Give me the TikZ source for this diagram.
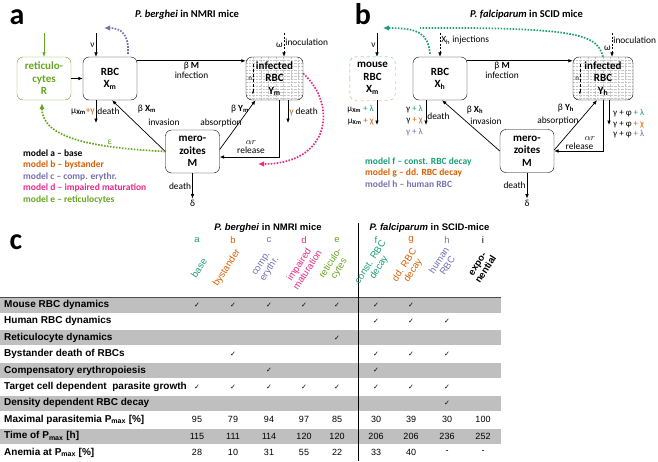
\documentclass[tikz,border=0pt]{standalone}
\usepackage{fontspec}
\setmainfont{Carlito}
\newfontfamily\tabfont{Liberation Sans}
\newfontfamily\symfont{DejaVu Sans}
\usetikzlibrary{arrows.meta}

\definecolor{mteal}{HTML}{1B9E77}
\definecolor{morange}{HTML}{D95F02}
\definecolor{mpurple}{HTML}{7570B3}
\definecolor{mpink}{HTML}{E7298A}
\definecolor{mgreen}{HTML}{66A61E}
\definecolor{rowgray}{HTML}{BFBFBF}

\tikzset{
  compbox/.style={draw, rounded corners=6pt, minimum width=54pt, minimum height=43pt,
    inner sep=1pt, align=center, font=\fontsize{11}{12.5}\selectfont\bfseries},
  infbox/.style={path picture={
      \foreach \k in {1,...,13}
        \draw[gray!45, densely dotted] ([yshift=-\k*3.2pt]path picture bounding box.north west) -- ++(70pt,0pt);
      \foreach \k in {1,...,8}
        \draw[gray!45, densely dotted] ([xshift=\k*7.5pt]path picture bounding box.north west) -- ++(0pt,-50pt);}},
  lbl/.style={font=\fontsize{9.4}{9.8}\selectfont, inner sep=1pt},
  flow/.style={->, line width=0.7pt},
  dashline/.style={dash pattern=on 2pt off 1.5pt},
  dotarr/.style={-{Latex[length=6pt,width=5.5pt]}, line width=1.7pt, dash pattern=on 1.6pt off 1.4pt},
  dotline/.style={line width=1.7pt, dash pattern=on 1.6pt off 1.4pt},
  legend/.style={anchor=west, inner sep=0pt, font=\fontsize{9.5}{10}\selectfont\bfseries},
  panel/.style={inner sep=0pt, font=\fontsize{30}{30}\selectfont\bfseries},
  ptitle/.style={inner sep=0pt, font=\fontsize{10.5}{11}\selectfont\bfseries},
  ttitle/.style={inner sep=0pt, font=\tabfont\fontsize{9.5}{10}\selectfont\bfseries},
  tabrow/.style={anchor=west, inner sep=0pt, font=\tabfont\fontsize{10}{11}\selectfont\bfseries},
  tabval/.style={inner sep=0pt, font=\tabfont\fontsize{9}{10}\selectfont},
  chk/.style={inner sep=0pt, font=\symfont\fontsize{7}{7}\selectfont},
  collbl/.style={rotate=57, align=center, inner sep=0pt, font=\tabfont\fontsize{9.5}{10}\selectfont},
}

\begin{document}
\begin{tikzpicture}[x=1pt,y=-1pt,>={Latex[length=4.5pt,width=3.6pt]}]
\useasboundingbox (0,0) rectangle (658,461);

% table background
\foreach \r in {0,2,4,6,8} {
  \pgfmathsetmacro\yy{305+\r*16.4}
  \fill[rowgray] (0,\yy-7.6) rectangle (501,\yy+7.6);
}
\draw[gray!60!black, line width=0.8pt] (0,297.5) -- (501,297.5);
\draw[line width=0.7pt] (358,223) -- (358,461);

% ---- panel a
\node[panel] (pa) at (17,17) {a};
\node[ptitle] (titA) at (187,15) {\textit{P. berghei} in NMRI mice};

\node[compbox, draw=mgreen, text=mgreen] (retA) at (44,78.5) {reticulo-\\cytes\\R};
\node[compbox] (rbcA) at (110,78.5) {RBC\\X\textsubscript{m}};
\node[compbox, infbox, minimum width=57pt] (infA) at (274.5,78.5) {infected\\RBC\\Y\textsubscript{m}};
\node[compbox] (merA) at (192.5,151.5) {mero-\\zoites\\M};

\coordinate (srcR) at (44,33);
\draw[flow, mgreen] (srcR) -- (retA.north);
\coordinate (srcX) at (96,33);
\draw[flow] (srcX) -- (srcX |- rbcA.north) node[lbl, midway, left] (nuA) {ν};
\draw[flow] (retA) -- (rbcA);
\draw[flow] ([yshift=-4pt]rbcA.north east) -- ([yshift=-4pt]infA.north west)
  node[lbl, midway, below, align=center] (infecA) {β \textbf{M}\\infection};
\coordinate (srcI) at (284,33);
\draw[flow, dashline] (srcI) -- (srcI |- infA.north)
  node[lbl, midway, left] (omA) {ω} node[lbl, pos=0.4, right] (inoA) {inoculation};
\draw[-{Latex[length=2.5pt,width=2pt]}, densely dashed, line width=0.4pt]
  ([xshift=7pt,yshift=-7pt]infA.north west) -- ([xshift=7pt,yshift=6pt]infA.south west)
  node[midway, left, inner sep=0.5pt, font=\fontsize{7}{7}\selectfont] (nA) {n};

\coordinate (dthI) at (288,123);
\draw[flow] (dthI |- infA.south) -- (dthI) node[lbl, midway, right] (gdA) {\textcolor{morange}{γ} death};
\coordinate (relA) at (279,157);
\draw[flow] (relA |- infA.south) -- (relA) -- (relA -| merA.east);
\node[lbl, align=center] (relAl) at (251,147) {$\alpha r$\\release};
\draw[flow] ([yshift=2pt]merA.east) -- ([xshift=-19pt]infA.south);
\node[lbl] (byA) at (240,109.5) {β \textbf{Y\textsubscript{m}}};
\node[lbl] (absA) at (221,122.5) {absorption};
\draw[flow] (merA.west) -- ([xshift=2pt]rbcA.south);
\node[lbl] (bxA) at (147,109.5) {β \textbf{X\textsubscript{m}}};
\node[lbl] (invA) at (164,122) {invasion};

\coordinate (dthR) at (96,123);
\draw[flow] (dthR |- rbcA.south) -- (dthR) node[lbl, midway, right] (dRA) {death}
  node[lbl, midway, left] (muA) {μ\textsubscript{\textbf{Xm}}\textcolor{morange}{+γ}};
\node[lbl] (delA) at (192.5,203) {δ};
\draw[flow] (merA) -- (delA) node[lbl, midway, left] (dMA) {death};

\coordinate (cmpA) at (104,28);
\draw[dotarr, mpurple] ([xshift=18pt,yshift=3pt]rbcA.north) .. controls (129,35) and (122,28) .. (cmpA);
\draw[dotarr, mgreen] (merA.west) .. controls (100,148) and (42,140) .. ([xshift=-2pt,yshift=-3pt]retA.south)
  node[lbl, pos=0.3, above, text=mgreen] (epsA) {ε};
\coordinate (impA) at (258,164);
\draw[dotarr, mpink] ([yshift=5pt]infA.east) .. controls (338,105) and (330,164) .. (impA);

\node[legend] (mdla) at (23,153) {model a – base};
\node[legend, text=morange] (mdlb) at (23,165) {model b – bystander};
\node[legend, text=mpurple] (mdlc) at (23,176.5) {model c – comp. erythr.};
\node[legend, text=mpink] (mdld) at (23,188) {model d – impaired maturation};
\node[legend, text=mgreen] (mdle) at (23,200) {model e – reticulocytes};

% ---- panel b
\node[panel] (pb) at (363,14) {b};
\node[ptitle] (titB) at (526.5,15) {\textit{P. falciparum} in SCID mice};

\node[compbox, draw=none, minimum width=45pt] (mouB) at (372.5,78.5) {mouse\\RBC\\X\textsubscript{m}};
\draw[mteal!70, dashed, rounded corners=6pt] (mouB.west) |- (mouB.north) -| (mouB.east);
\draw[morange!70, dashed, rounded corners=6pt] (mouB.west) |- (mouB.south) -| (mouB.east);
\node[compbox] (rbcB) at (440,78.5) {RBC\\X\textsubscript{h}};
\node[compbox, infbox, minimum width=60pt] (infB) at (603,78.5) {infected\\RBC\\Y\textsubscript{h}};
\node[compbox] (merB) at (527,151) {mero-\\zoites\\M};

\coordinate (srcM) at (377,33);
\draw[flow] (srcM) -- (srcM |- mouB.north) node[lbl, midway, left] (nuB) {ν};
\coordinate (srcH) at (440,33);
\draw[flow, dashline] (srcH) -- (srcH |- rbcB.north) node[lbl, pos=0.3, right] (injB) {X\textsubscript{h} injections};
\draw[flow] ([yshift=-4pt]rbcB.north east) -- ([yshift=-4pt]infB.north west)
  node[lbl, pos=0.33, below, align=center] (infecB) {β \textbf{M}\\infection};
\coordinate (srcJ) at (612,33);
\draw[flow, dashline] (srcJ) -- (srcJ |- infB.north)
  node[lbl, pos=0.65, left] (omB) {ω} node[lbl, pos=0.3, right] (inoB) {inoculation};
\draw[-{Latex[length=2.5pt,width=2pt]}, densely dashed, line width=0.4pt]
  ([xshift=7pt,yshift=-7pt]infB.north west) -- ([xshift=7pt,yshift=6pt]infB.south west)
  node[midway, left, inner sep=0.5pt, font=\fontsize{7}{7}\selectfont] (nB) {n};

\coordinate (dthJ) at (609,125);
\draw[flow] (dthJ |- infB.south) -- (dthJ);
\node[lbl, anchor=west, align=left, font=\fontsize{9}{10.5}\selectfont] (lamB) at (612,124)
  {γ + φ \textcolor{mteal}{+ λ}\\γ + φ \textcolor{morange}{+ χ}\\γ + φ \textcolor{mpurple}{+ λ}};
\coordinate (relB) at (603,151);
\draw[flow] (relB |- infB.south) -- (relB) -- (relB -| merB.east);
\node[lbl] (arB) at (590,138.5) {$\alpha r$};
\node[lbl] (relBl) at (579.5,146) {release};
\draw[flow] ([yshift=1pt]merB.east) -- ([xshift=-6pt]infB.south);
\node[lbl] (byB) at (566,108) {β \textbf{Y\textsubscript{h}}};
\node[lbl] (absB) at (558,121) {absorption};
\draw[flow] (merB.west) -- ([xshift=2pt]rbcB.south);
\node[lbl] (bxB) at (475,110) {β \textbf{X\textsubscript{h}}};
\node[lbl] (invB) at (486,121) {invasion};

\coordinate (dthH) at (426,125);
\draw[flow] (dthH |- rbcB.south) -- (dthH) node[lbl, pos=0.65, right] (dHB) {death};
\node[lbl, anchor=east, align=right, font=\fontsize{9}{11.5}\selectfont] (gamB) at (424,120.5)
  {γ \textcolor{mteal}{+ λ}\\γ \textcolor{morange}{+ χ}\\\textcolor{mpurple}{γ + λ}};
\coordinate (dthM) at (377,125);
\draw[flow] (dthM |- mouB.south) -- (dthM);
\node[lbl, anchor=east, align=right, font=\fontsize{9}{12}\selectfont] (muB) at (375,115)
  {μ\textsubscript{\textbf{Xm}} \textcolor{mteal}{+ λ}\\μ\textsubscript{\textbf{Xm}} \textcolor{morange}{+ χ}};
\node[lbl] (delB) at (527,203) {δ};
\draw[flow] (merB) -- (delB) node[lbl, midway, left] (dMB) {death};

\coordinate (decB) at (383,28);
\coordinate (joinB) at (420,28);
\draw[dotarr, mteal] ([xshift=-10pt,yshift=3pt]rbcB.north) .. controls (428,33) and (418,28) .. (decB);
\draw[dotline, mteal] (infB.north) .. controls (597,36) and (585,27) .. (joinB);

\node[legend, text=mteal] (mdlf) at (365,162) {model f – const. RBC decay};
\node[legend, text=morange] (mdlg) at (365,173) {model g – dd. RBC decay};
\node[legend, text=mpurple] (mdlh) at (365,184) {model h – human RBC};

% ---- panel c
\node[panel] (pc) at (16,242) {c};
\node[ttitle] (titC1) at (268,228) {\textit{P. berghei} in NMRI mice};
\node[ttitle] (titC2) at (429.5,228) {\textit{P. falciparum} in SCID-mice};

\foreach \c/\x in {a/197,b/233,c/269,d/304,e/337,f/376,g/411,h/447,i/483}
  \coordinate (col\c) at (\x,240);
\foreach \c/\clr in {a/mteal,b/morange,c/mpurple,d/mpink,e/mgreen,f/mteal,g/morange,h/mpurple,i/black}
  \node[tabval, font=\tabfont\fontsize{9.5}{9.5}\selectfont, text=\clr] (hd\c) at (col\c) {\c};

\node[collbl, text=mteal] (lba) at (199,268) {base};
\node[collbl, text=morange] (lbb) at (227,268) {bystander};
\node[collbl, text=mpurple] (lbc) at (266,267) {comp.\\erythr.};
\node[collbl, text=mpink] (lbd) at (303,267) {impaired\\maturation};
\node[collbl, text=mgreen] (lbe) at (335,266) {reticulo-\\cytes};
\node[collbl, text=mteal] (lbf) at (375,265) {const. RBC\\decay};
\node[collbl, text=morange] (lbg) at (409,268) {dd. RBC\\decay};
\node[collbl, text=mpurple] (lbh) at (443,263) {human\\RBC};
\node[collbl, font=\tabfont\fontsize{9.5}{10}\selectfont\bfseries] (lbi) at (482,267) {expo-\\nential};

\foreach \txt [count=\r from 0] in {Mouse RBC dynamics, Human RBC dynamics, Reticulocyte dynamics,
    Bystander death of RBCs, Compensatory erythropoiesis, Target cell dependent \ parasite growth,
    Density dependent RBC decay, Maximal parasitemia P\textsubscript{max} [\%],
    Time of P\textsubscript{max} [h], Anemia at P\textsubscript{max} [\%]} {
  \pgfmathsetmacro\yy{305+\r*16.4}
  \node[tabrow] (row\r) at (4,\yy) {\txt};
}

\foreach \r/\cols in {0/{a,b,c,d,e,f,g}, 1/{f,g,h}, 2/{e}, 3/{b,f,g,h}, 4/{c,f},
    5/{a,b,c,d,e,f,g,h}, 6/{h}} {
  \pgfmathsetmacro\yy{305+\r*16.4}
  \foreach \c in \cols
    \node[chk] (ck\r\c) at (col\c |- 0,\yy) {✓};
}

\foreach \c/\p/\t/\an in {a/95/115/28, b/79/111/10, c/94/114/31, d/97/120/55, e/85/120/22,
    f/30/206/33, g/39/206/40, h/30/236/-, i/100/252/-} {
  \node[tabval] (pm\c) at (col\c |- 0,419.8) {\p};
  \node[tabval] (tm\c) at (col\c |- 0,436.2) {\t};
  \node[tabval] (an\c) at (col\c |- 0,452.6) {\an};
}
\end{tikzpicture}
\end{document}
